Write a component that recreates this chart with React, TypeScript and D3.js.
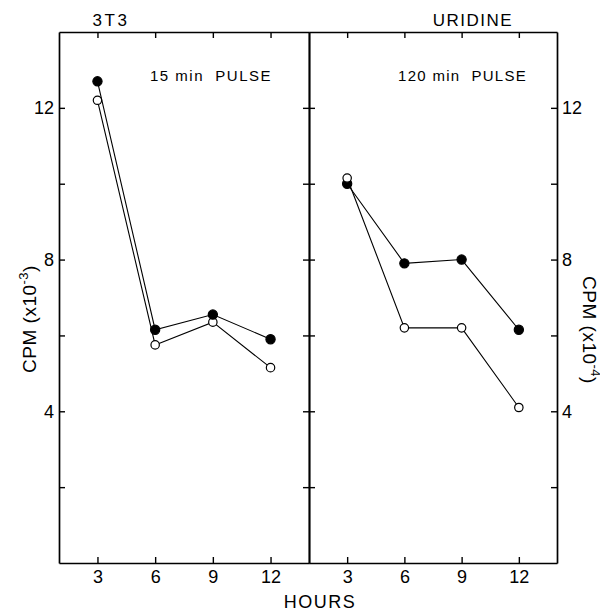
import React, { useEffect, useRef } from 'react';
import * as d3 from 'd3';

interface Point {
  hour: number;
  cpm: number;
}

// x values (hours) shared by every series
const hours = [3, 6, 9, 12];
const yTicks = [2, 4, 6, 8, 10, 12];

// left panel: 3T3, 15 min pulse (CPM x10^-3)
const pulse15Filled = [12.7, 6.15, 6.55, 5.9];
const pulse15Open = [12.2, 5.75, 6.35, 5.15];

// right panel: uridine, 120 min pulse (CPM x10^-4)
const pulse120Filled = [10.0, 7.9, 8.0, 6.15];
const pulse120Open = [10.15, 6.2, 6.2, 4.1];

const toPoints = (vals: number[]): Point[] => vals.map((v, i) => ({ hour: hours[i], cpm: v }));

const FONT = '"Liberation Sans", Arial, sans-serif';

const Chart: React.FC = () => {
  const ref = useRef<SVGSVGElement>(null);

  useEffect(() => {
    drawChart();
  }, []);

  const drawChart = () => {
    const svg = d3.select(ref.current!);
    svg.selectAll('*').remove();

    const top = 32;
    const bottom = 563;
    const leftX = 59;
    const midX = 309;
    const rightX = 557;

    const yScale = d3.scaleLinear().domain([0, 14]).range([bottom, top]);
    const xLeft = d3.scaleLinear().domain([1, 14]).range([leftX, midX]);
    const xRight = d3.scaleLinear().domain([1, 14]).range([midX, rightX]);

    const yLabel = (d: d3.NumberValue) => ((d as number) % 4 === 0 ? String(d) : '');

    const styleAxis = (g: d3.Selection<SVGGElement, unknown, null, undefined>) => {
      g.selectAll('path').attr('stroke', '#000').attr('stroke-width', 1.7);
      g.selectAll('line').attr('stroke', '#000').attr('stroke-width', 1.4);
      g.selectAll('text').attr('fill', '#000').style('font-family', FONT).style('font-size', '18px');
    };

    // left y axis
    svg
      .append('g')
      .attr('transform', `translate(${leftX},0)`)
      .call(d3.axisLeft(yScale).tickValues(yTicks).tickSizeInner(-6).tickSizeOuter(0).tickPadding(5).tickFormat(yLabel))
      .call(styleAxis);

    // divider with ticks on both sides
    svg
      .append('g')
      .attr('transform', `translate(${midX},0)`)
      .call(d3.axisLeft(yScale).tickValues(yTicks).tickSizeInner(6).tickSizeOuter(0).tickFormat(() => ''))
      .call(styleAxis);
    svg
      .append('g')
      .attr('transform', `translate(${midX},0)`)
      .call(d3.axisRight(yScale).tickValues(yTicks).tickSizeInner(6).tickSizeOuter(0).tickFormat(() => ''))
      .call(styleAxis);

    // right y axis
    svg
      .append('g')
      .attr('transform', `translate(${rightX},0)`)
      .call(d3.axisRight(yScale).tickValues(yTicks).tickSizeInner(-6).tickSizeOuter(0).tickPadding(5).tickFormat(yLabel))
      .call(styleAxis);

    [xLeft, xRight].forEach((x) => {
      svg
        .append('g')
        .attr('transform', `translate(0,${bottom})`)
        .call(d3.axisBottom(x).tickValues(hours).tickSizeInner(-6).tickSizeOuter(0).tickPadding(7).tickFormat(d3.format('d')))
        .call(styleAxis);
      svg
        .append('g')
        .attr('transform', `translate(0,${top})`)
        .call(d3.axisTop(x).tickValues(hours).tickSizeInner(-6).tickSizeOuter(0).tickFormat(() => ''))
        .call(styleAxis);
    });

    const drawSeries = (x: d3.ScaleLinear<number, number>, vals: number[], filled: boolean) => {
      const pts = toPoints(vals);
      const line = d3
        .line<Point>()
        .x((d) => x(d.hour))
        .y((d) => yScale(d.cpm));
      svg.append('path').datum(pts).attr('d', line).attr('fill', 'none').attr('stroke', '#000').attr('stroke-width', 1.1);
      svg
        .append('g')
        .selectAll('circle')
        .data(pts)
        .enter()
        .append('circle')
        .attr('cx', (d) => x(d.hour))
        .attr('cy', (d) => yScale(d.cpm))
        .attr('r', filled ? 4.6 : 4.2)
        .attr('fill', filled ? '#000' : '#fff')
        .attr('stroke', '#000')
        .attr('stroke-width', 1.2);
    };

    drawSeries(xLeft, pulse15Open, false);
    drawSeries(xLeft, pulse15Filled, true);
    drawSeries(xRight, pulse120Filled, true);
    drawSeries(xRight, pulse120Open, false);

    const addText = (txt: string, x: number, y: number, size: number, spacing: number, anchor = 'middle') =>
      svg
        .append('text')
        .attr('x', x)
        .attr('y', y)
        .attr('text-anchor', anchor)
        .style('font-family', FONT)
        .style('font-size', `${size}px`)
        .style('letter-spacing', `${spacing}px`)
        .style('white-space', 'pre')
        .text(txt);

    addText('3T3', 111, 26, 17, 2.5);
    addText('URIDINE', 473, 26, 17, 1.5);
    addText('15 min  PULSE', 150, 81, 15, 1.5, 'start');
    addText('120 min  PULSE', 398, 81, 15, 1.3, 'start');
    addText('HOURS', 320, 608, 18, 1.5);

    // rotated y labels with superscript exponent
    const yTitle = (x: number, y: number, rot: number, exp: string) => {
      const t = svg
        .append('text')
        .attr('transform', `translate(${x},${y}) rotate(${rot})`)
        .attr('text-anchor', 'middle')
        .style('font-family', FONT)
        .style('font-size', '19px')
        .style('letter-spacing', '0.5px');
      t.append('tspan').text('CPM (x10');
      t.append('tspan').attr('dy', -8).style('font-size', '13px').text(exp);
      t.append('tspan').attr('dy', 8).text(')');
    };
    yTitle(36, 319, -90, '-3');
    yTitle(583, 330, 90, '-4');
  };

  return <svg ref={ref} width={608} height={612} style={{ display: 'block', margin: '-8px 0 0 -8px' }} />;
};

export default function App() {
  return <Chart />;
}
